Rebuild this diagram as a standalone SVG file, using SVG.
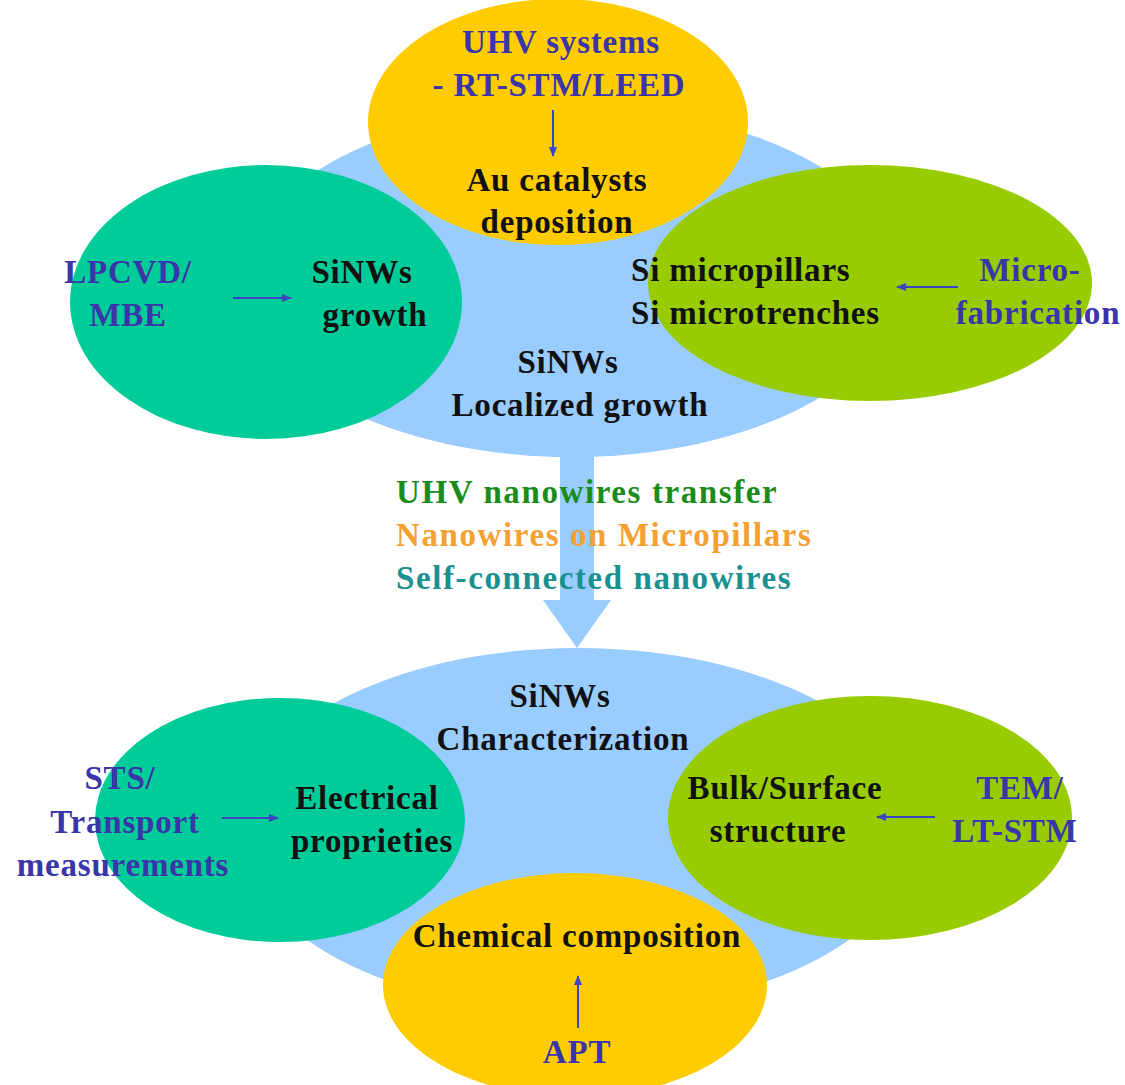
<svg xmlns="http://www.w3.org/2000/svg" width="1125" height="1085" viewBox="0 0 1125 1085">
<defs>
<style>
text{font-family:"Liberation Serif","Times New Roman",serif;font-weight:bold;font-size:33px;letter-spacing:0.8px}
.b{fill:#3a35a8}
.k{fill:#111}
.c{text-anchor:middle}
.w{letter-spacing:1.6px}
.ln{stroke:#3a45c0;stroke-width:2;fill:none}
</style>
<marker id="ah" markerWidth="10" markerHeight="8" refX="9" refY="4" orient="auto" markerUnits="userSpaceOnUse">
<path d="M0,0 L10,4 L0,8 z" fill="#3a45c0"/>
</marker>
</defs>
<rect width="1125" height="1085" fill="#fff"/>
<g id="top-hub"><ellipse cx="572" cy="282" rx="330" ry="175" fill="#99ccff"/></g>
<g id="transfer-arrow"><path d="M560,440 H594 V600 H611 L577,648 L543,600 H560 Z" fill="#99ccff"/></g>
<g id="bottom-hub"><ellipse cx="578" cy="830" rx="340" ry="182" fill="#99ccff"/></g>
<g id="uhv"><ellipse cx="558" cy="122" rx="190" ry="123" fill="#ffcc00"/></g>
<g id="growth"><ellipse cx="266" cy="302" rx="196" ry="137" fill="#00cc99"/></g>
<g id="microfab"><ellipse cx="870" cy="283" rx="222" ry="118" fill="#99cc00"/></g>
<g id="electrical"><ellipse cx="280" cy="820" rx="185" ry="122" fill="#00cc99"/></g>
<g id="structure"><ellipse cx="870" cy="818" rx="202" ry="122" fill="#99cc00"/></g>
<g id="chemical"><ellipse cx="575" cy="985" rx="192" ry="112" fill="#ffcc00"/></g>
<g id="connectors">
<line class="ln" x1="553" y1="110" x2="553" y2="156" marker-end="url(#ah)"/>
<line class="ln" x1="233" y1="298" x2="291" y2="298" marker-end="url(#ah)"/>
<line class="ln" x1="958" y1="287" x2="897" y2="287" marker-end="url(#ah)"/>
<line class="ln" x1="222" y1="818" x2="278" y2="818" marker-end="url(#ah)"/>
<line class="ln" x1="935" y1="817" x2="877" y2="817" marker-end="url(#ah)"/>
<line class="ln" x1="578" y1="1028" x2="578" y2="976" marker-end="url(#ah)"/>
</g>
<g id="labels">
<text class="b c" x="561" y="53">UHV systems</text>
<text class="b c" x="559" y="96">- RT-STM/LEED</text>
<text class="k c" x="557" y="191">Au catalysts</text>
<text class="k c" x="557" y="233">deposition</text>
<text class="b c" x="128" y="283">LPCVD/</text>
<text class="b c" x="128" y="326">MBE</text>
<text class="k c" x="362" y="283">SiNWs</text>
<text class="k c" x="375" y="326">growth</text>
<text class="k" x="631" y="281">Si micropillars</text>
<text class="k" x="631" y="324">Si microtrenches</text>
<text class="b c" x="1030" y="281">Micro-</text>
<text class="b c" x="1038" y="324">fabrication</text>
<text class="k c" x="568" y="373">SiNWs</text>
<text class="k c" x="580" y="416">Localized growth</text>
<text class="w" x="396" y="503" fill="#1a8c1a">UHV nanowires transfer</text>
<text class="w" x="396" y="546" fill="#f5a033">Nanowires on Micropillars</text>
<text class="w" x="396" y="589" fill="#1a9090">Self-connected nanowires</text>
<text class="k c" x="560" y="707">SiNWs</text>
<text class="k c" x="563" y="750">Characterization</text>
<text class="b c" x="120" y="789">STS/</text>
<text class="b c" x="125" y="833">Transport</text>
<text class="b c" x="123" y="876">measurements</text>
<text class="k c" x="367" y="809">Electrical</text>
<text class="k c" x="372" y="852">proprieties</text>
<text class="k c" x="785" y="799">Bulk/Surface</text>
<text class="k c" x="778" y="842">structure</text>
<text class="b c" x="1020" y="799">TEM/</text>
<text class="b c" x="1015" y="842">LT-STM</text>
<text class="k c" x="577" y="947">Chemical composition</text>
<text class="b c" x="577" y="1063">APT</text>
</g>
</svg>
